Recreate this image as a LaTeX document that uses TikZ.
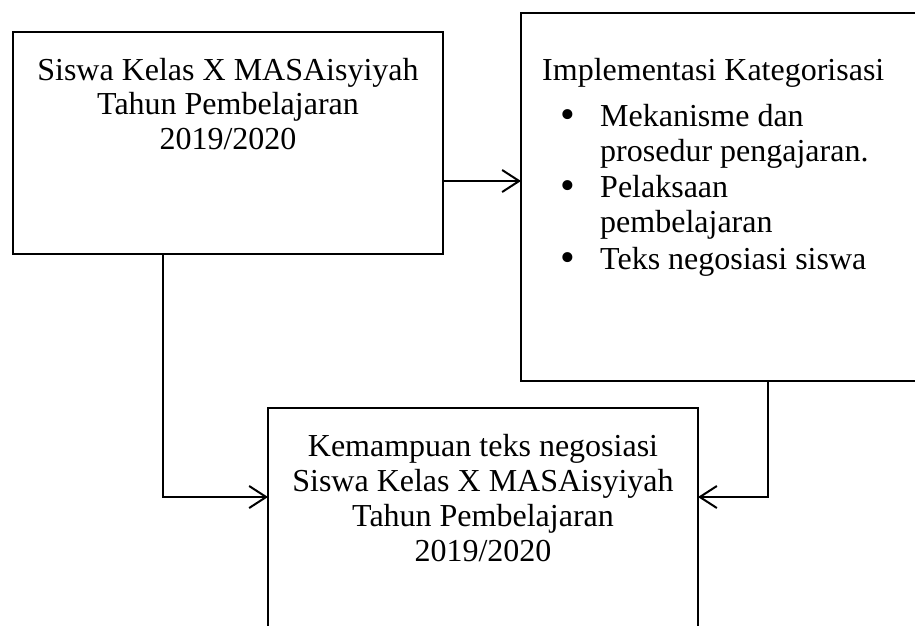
\documentclass[tikz,border=0pt]{standalone}
\usepackage{fontspec}
\setmainfont{Liberation Serif}
\usetikzlibrary{arrows.meta}
\begin{document}
\begin{tikzpicture}[x=1pt,y=-1pt,
  box/.style={draw,line width=2.8pt,inner sep=0pt,outer sep=0pt,rectangle},
  txt/.style={font=\fontsize{32}{35}\selectfont,inner sep=0pt,anchor=base},
  txtl/.style={txt,anchor=base west},
  bul/.style={txt,font=\fontsize{42}{35}\selectfont},
  conn/.style={line width=2pt,-{Straight Barb[length=17pt,width=22pt,line width=2pt]}}]
\useasboundingbox (0,0) rectangle (915,625);
\clip (0,0) rectangle (915,625);
% boxes
\node[box,minimum width=430pt,minimum height=222pt] (A) at (228,143) {};
\node[box,minimum width=409pt,minimum height=368pt] (B) at (725.5,197) {};
\node[box,minimum width=430pt,minimum height=232pt] (C) at (483,524) {};
% box A text
\node[txt] (a1) at (228,80) {Siswa Kelas X MASAisyiyah};
\node[txt] (a2) at (228,114.5) {Tahun Pembelajaran};
\node[txt] (a3) at (228,149) {2019/2020};
% box B text
\node[txtl] (b0) at (542,80) {Implementasi Kategorisasi};
\node[bul] (bb1) at (568,128) {\textbullet};
\node[txtl] (b1) at (600,126) {Mekanisme dan};
\node[txtl] (b2) at (600,161) {prosedur pengajaran.};
\node[bul] (bb2) at (568,199) {\textbullet};
\node[txtl] (b3) at (600,197) {Pelaksaan};
\node[txtl] (b4) at (600,232) {pembelajaran};
\node[bul] (bb3) at (568,271) {\textbullet};
\node[txtl] (b5) at (600,269) {Teks negosiasi siswa};
% box C text
\node[txt] (c1) at (483,456) {Kemampuan teks negosiasi};
\node[txt] (c2) at (483,491) {Siswa Kelas X MASAisyiyah};
\node[txt] (c3) at (483,526) {Tahun Pembelajaran};
\node[txt] (c4) at (483,561) {2019/2020};
% connectors
\draw[conn] ([yshift=-38pt]A.east) -- ([yshift=-38pt]A.east -| B.west);
\draw[conn] ([xshift=-65pt]A.south) |- ([yshift=27pt]C.west);
\draw[conn] ([xshift=42.5pt]B.south) |- ([yshift=27pt]C.east);
\end{tikzpicture}
\end{document}
